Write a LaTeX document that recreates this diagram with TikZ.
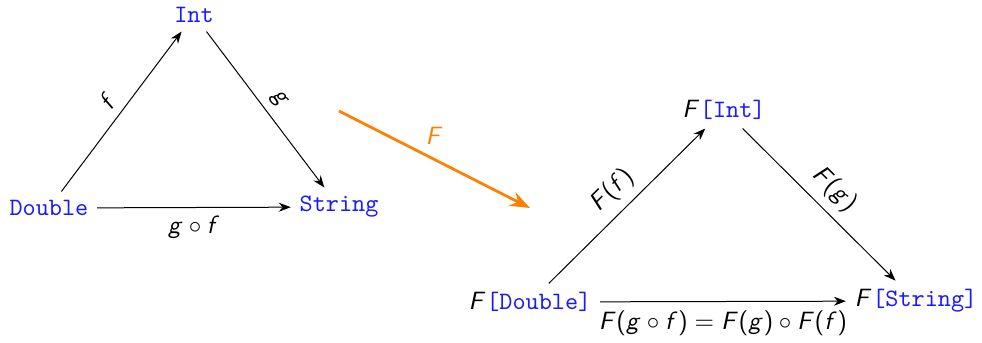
\documentclass[tikz,border=0pt]{standalone}
\usepackage{amsmath,amssymb}
\usetikzlibrary{arrows.meta}
\SetSymbolFont{operators}{normal}{OT1}{cmss}{m}{n}
\SetSymbolFont{letters}{normal}{OT1}{cmss}{m}{sl}
\definecolor{TipoAzul}{HTML}{1A1AFF}
\definecolor{FunNaranja}{HTML}{FF8000}
\newcommand{\tipo}[1]{\textcolor{TipoAzul}{\texttt{#1}}}

\begin{document}
\begin{tikzpicture}[x=.4pt,y=-.4pt,font=\sffamily,>=Stealth]
\useasboundingbox (0,0) rectangle (982,342);
% categoria de tipos
\node (int) at (194,15) {\tipo{Int}};
\node (dbl) at (49,208) {\tipo{Double}};
\node (str) at (339,207) {\tipo{String}};
\draw[->] (dbl)--(int) node[midway,above,sloped] {$f$};
\draw[->] (int)--(str) node[midway,above,sloped] {$g$};
\draw[->] (dbl)--(str) node[midway,below] {$g\circ f$};
% el funtor
\coordinate (fa) at (339,111);
\coordinate (fb) at (530,208);
\draw[->,FunNaranja,line width=1.1pt] (fa)--(fb) node[midway,above=2pt] {$F$};
% imagen por F
\node (fint) at (724,110) {$F$\tipo{[Int]}};
\node (fdbl) at (530,302) {$F$\tipo{[Double]}};
\node (fstr) at (916,301) {$F$\tipo{[String]}};
\draw[->] (fdbl)--(fint) node[midway,above,sloped] {$F(f)$};
\draw[->] (fint)--(fstr) node[midway,above,sloped] {$F(g)$};
\draw[->] (fdbl)--(fstr) node[midway,below] {$F(g\circ f)=F(g)\circ F(f)$};
\end{tikzpicture}
\end{document}
